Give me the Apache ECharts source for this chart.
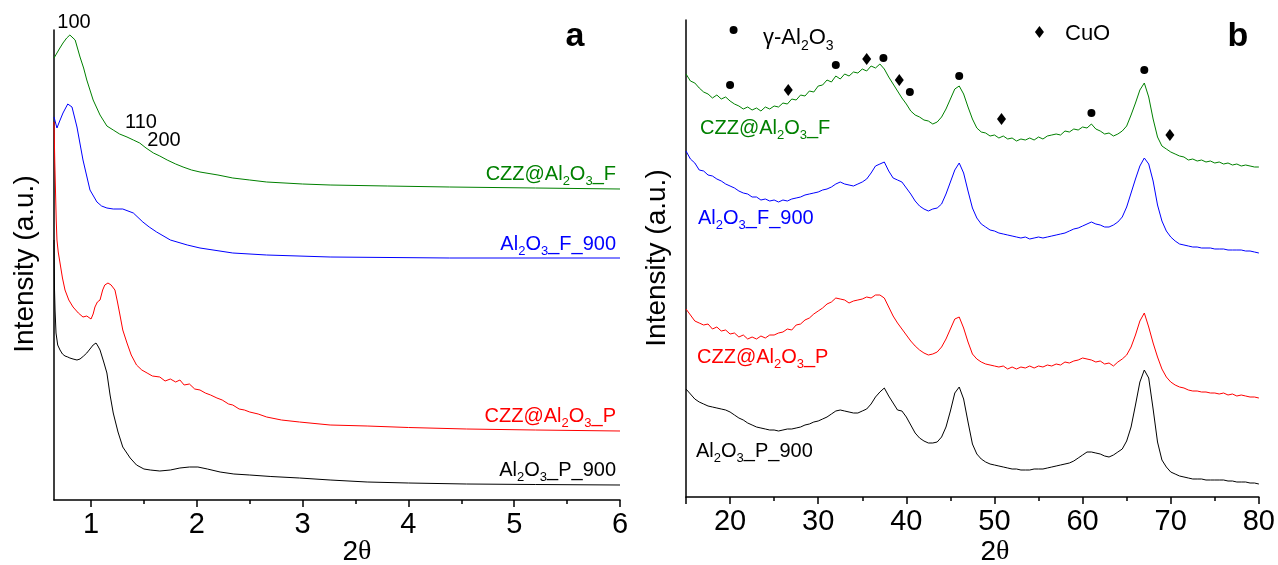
<!DOCTYPE html>
<html><head><meta charset="utf-8">
<script src="https://cdn.jsdelivr.net/npm/echarts@6/dist/echarts.min.js"></script>
<style>html,body{margin:0;padding:0;background:#fff}#c{width:1278px;height:565px}</style>
</head><body><div id="c"></div>
<script>
// ---------- Panel a (low-angle XRD) ----------
const aTicks = [1, 2, 3, 4, 5, 6];
const a_czzF_x = [0.65,0.70,0.735,0.77,0.80,0.85,0.896,0.93,0.96,1.02,1.085,1.15,1.21,1.27,1.34,1.40,1.46,1.52,1.59,1.65,1.72,1.80,1.87,1.95,2.03,2.2,2.34,2.5,2.66,3.0,3.26,3.8,4.39,5.2,6.0];
const a_czzF_y = [442,451,457,462,465,460,443,432,420,400,385,374,370,366,363,360,357,352,347,344,340,336,333,330,328,325,322,320,318,316,315,314,313,312,311];
const a_alF_x = [0.65,0.678,0.70,0.735,0.78,0.82,0.867,0.924,0.99,1.056,1.10,1.15,1.21,1.30,1.40,1.49,1.55,1.62,1.75,1.91,2.03,2.34,2.66,3.26,4.39,6.0];
const a_alF_y = [383,372,378,387,396,393,373,340,310,298,294,292,291,291,287,278,273,268,260,255,252,247,245,243,242,242];
const a_czzP_x = [0.65,0.657,0.664,0.671,0.678,0.69,0.707,0.73,0.754,0.79,0.83,0.88,0.924,0.96,1.0,1.02,1.037,1.06,1.085,1.11,1.13,1.16,1.19,1.226,1.25,1.27,1.30,1.34,1.38,1.43,1.48,1.53,1.58,1.65,1.70,1.75,1.80,1.84,1.88,1.93,1.98,2.03,2.08,2.13,2.19,2.24,2.30,2.34,2.40,2.45,2.50,2.58,2.66,2.80,2.97,3.26,3.61,4.0,4.55,5.2,6.0];
const a_czzP_y = [378,340,310,280,260,248,237,222,210,200,193,187,183,184,181,186,193,198,200,210,215,217,215,210,198,187,170,157,145,135,130,127,124,123,119,121,118,120,115,116,111,110,107,105,102,100,96,95,91,90,88,86,83,80,78,75,74,72.5,71,70,69];
const a_alP_x = [0.65,0.655,0.66,0.669,0.685,0.707,0.73,0.754,0.78,0.80,0.83,0.867,0.896,0.93,0.96,0.99,1.02,1.047,1.065,1.085,1.12,1.15,1.18,1.21,1.255,1.30,1.37,1.43,1.50,1.56,1.65,1.75,1.84,1.93,2.01,2.10,2.22,2.35,2.50,2.70,2.97,3.26,3.61,4.0,4.55,5.2,6.0];
const a_alP_y = [260,210,190,167,155,150,146,144,143,142,141,140,141,144,147,151,155,157,154,150,138,127,105,87,68,53,42,35,31,30,29,30,32,33,33,31,28,26,25,23.5,22,20,18,17,16,15.5,15];

// ---------- Panel b (wide-angle XRD) ----------
const bTicks = [20, 30, 40, 50, 60, 70, 80];
const b_x = [15,15.5,16,16.5,17,17.5,18,18.5,19,19.5,
  20,20.5,21,21.5,22,22.5,23,23.5,24,24.5,
  25,25.5,26,26.5,27,27.5,28,28.5,29,29.5,
  30,30.5,31,31.5,32,32.5,33,33.5,34,34.5,
  35,35.5,36,36.5,37,37.5,38,38.5,39,39.5,
  40,40.5,41,41.5,42,42.5,43,43.5,44,44.5,
  45,45.5,46,46.5,47,47.5,48,48.5,49,49.5,
  50,50.5,51,51.5,52,52.5,53,53.5,54,54.5,
  55,55.5,56,56.5,57,57.5,58,58.5,59,59.5,
  60,60.5,61,61.5,62,62.5,63,63.5,64,64.5,
  65,65.5,66,66.5,67,67.5,68,68.5,69,69.5,
  70,70.5,71,71.5,72,72.5,73,73.5,74,74.5,
  75,75.5,76,76.5,77,77.5,78,78.5,79,79.5,
  80];
const b_czzF = [423,416,414,409,405,403,399,402,398,400,
  396,393,391,388,390,387,389,386,390,388,
  391,390,394,393,398,397,402,401,406,405,
  411,412,417,415,421,418,423,421,425,424,
  428,426,431,429,433,428,420,413,406,399,
  393,386,382,380,377,376,373,375,380,388,
  398,408,411,403,390,378,369,365,364,361,
  362,359,361,358,359,356,358,357,359,357,
  360,358,361,362,363,362,366,365,368,367,
  370,369,373,368,366,363,364,361,363,366,
  371,382,394,407,414,400,378,360,351,348,
  345,343,341,340,337,338,336,337,335,336,
  334,335,333,334,332,333,331,332,331,330,
  330];
const b_alF = [346,338,334,327,326,322,321,318,316,313,
  311,309,306,304,303,300,300,297,298,296,
  297,295,297,296,298,299,300,302,303,304,
  305,307,308,310,313,315,313,312,311,313,
  315,318,324,331,333,335,326,319,317,315,
  309,303,296,291,288,286,288,289,293,303,
  315,327,334,324,306,289,279,273,270,267,
  266,264,263,262,261,260,259,260,258,259,
  260,259,260,261,262,263,264,266,268,269,
  271,273,275,273,272,270,270,272,275,280,
  290,304,318,331,339,333,316,292,276,266,
  260,256,253,252,251,250,250,249,249,249,
  248,248,248,247,247,247,247,246,246,245,
  244];
const b_czzP = [188,182,176,174,172,173,168,170,166,167,
  163,164,160,162,158,160,158,161,159,162,
  162,164,165,168,167,172,173,177,179,183,
  186,189,193,195,199,198,197,194,196,197,
  198,200,199,202,202,199,190,181,174,168,
  162,156,151,147,144,142,143,145,150,158,
  168,178,180,169,155,143,138,135,133,132,
  131,130,131,128,130,128,130,129,131,129,
  131,130,132,131,133,132,135,134,136,137,
  139,138,137,135,136,133,134,131,135,138,
  142,150,162,176,184,170,154,140,128,120,
  115,112,110,109,107,106,106,105,105,104,
  104,103,104,102,103,101,102,101,100,100,
  99];
const b_alP = [108,103,98,95,93,91,90,89,88,87,
  85,82,79,77,74,72,70,69,68,67,
  67,66,67,68,68,69,70,72,73,75,
  76,78,80,83,86,87,86,85,84,84,
  86,88,93,100,105,109,101,94,87,86,
  80,72,64,59,56,54,54,55,60,70,
  86,104,110,98,75,53,43,38,35,33,
  32,31,30,29,28,28,27,27,27,28,
  28,28,29,30,31,32,33,34,36,39,
  42,45,45,44,43,41,40,42,45,48,
  56,70,92,115,127,119,88,55,37,30,
  25,23,21,20,19,18,18,18,17,17,
  17,17,17,16,16,15,15,15,14,14,
  13];
// phase markers (2θ position, height in a.u.)
const gammaX = [20.0, 32.0, 37.4, 40.4, 46.0, 61.0, 67.0];
const gammaY = [412, 432, 439, 405, 421, 384, 427];
const cuoX = [26.6, 35.5, 39.2, 50.8, 69.9];
const cuoY = [407, 438, 417, 378, 362];
const legendGamma = [20.4, 467];
const legendCuo = [55.1, 465];

const zip = (xs, ys) => xs.map((x, i) => [x, ys[i]]);
const FONT = 'Liberation Sans, Arial, sans-serif';
const GREEN = '#008000', BLUE = '#0000ff', RED = '#ff0000', BLACK = '#000000';

function lbl(text, color, x, y, align, size) {
  size = size || 20;
  return {
    type: 'text', x: x, y: y, silent: true, z: 50,
    style: {
      text: text, fill: color, fontSize: size, fontFamily: FONT,
      align: align, textAlign: align, verticalAlign: 'middle', textVerticalAlign: 'middle',
      lineHeight: Math.round(size * 1.4),
      rich: {
        s: { fontSize: Math.round(size * 0.65), fontFamily: FONT, fill: color, lineHeight: Math.round(size * 0.7), verticalAlign: 'bottom' },
        t: { fontSize: size, fontFamily: 'Liberation Serif, Times New Roman, serif', fill: color }
      }
    }
  };
}

const axisX = (gridIndex, min, max, split, custom) => {
  const ax = {
    type: 'value', gridIndex: gridIndex, min: min, max: max, splitNumber: split,
    axisLine: { show: true, onZero: false, lineStyle: { color: '#000', width: 1.5 } },
    axisTick: { show: true, inside: false, length: 7, lineStyle: { color: '#000', width: 1.5 } },
    minorTick: { show: true, splitNumber: 2, length: 4, lineStyle: { color: '#000', width: 1.5 } },
    axisLabel: { show: true, showMinLabel: false, color: '#000', fontSize: 29, fontFamily: FONT, margin: 10 },
    splitLine: { show: false }, minorSplitLine: { show: false }
  };
  if (custom) { ax.axisTick.customValues = custom; ax.axisLabel.customValues = custom; ax.axisLabel.showMinLabel = true; }
  return ax;
};
const axisY = (gridIndex, max) => ({
  type: 'value', gridIndex: gridIndex, min: 0, max: max,
  axisLine: { show: true, onZero: false, lineStyle: { color: '#000', width: 1.5 } },
  axisTick: { show: false }, axisLabel: { show: false }, splitLine: { show: false }
});
const line = (xi, yi, data, color) => ({
  type: 'line', xAxisIndex: xi, yAxisIndex: yi, data: data, showSymbol: false, symbol: 'none',
  lineStyle: { color: color, width: 1 }, silent: true, animation: false, z: 2
});
const pts = (data, symbol, size) => ({
  type: 'scatter', xAxisIndex: 1, yAxisIndex: 1, data: data, symbol: symbol, symbolSize: size,
  itemStyle: { color: '#000', opacity: 1 }, silent: true, animation: false, z: 5
});

const chart = echarts.init(document.getElementById('c'), null, { renderer: 'canvas' });
chart.setOption({
  animation: false,
  backgroundColor: '#fff',
  grid: [
    { left: 54, top: 30, width: 566, height: 470 },
    { left: 686, top: 20, width: 574, height: 477 }
  ],
  xAxis: [axisX(0, 0.65, aTicks[aTicks.length - 1], 5, aTicks), axisX(1, 15, bTicks[bTicks.length - 1], 7)],
  yAxis: [axisY(0, 470), axisY(1, 477)],
  series: [
    line(0, 0, zip(a_czzF_x, a_czzF_y), GREEN),
    line(0, 0, zip(a_alF_x, a_alF_y), BLUE),
    line(0, 0, zip(a_czzP_x, a_czzP_y), RED),
    line(0, 0, zip(a_alP_x, a_alP_y), BLACK),
    line(1, 1, zip(b_x, b_czzF), GREEN),
    line(1, 1, zip(b_x, b_alF), BLUE),
    line(1, 1, zip(b_x, b_czzP), RED),
    line(1, 1, zip(b_x, b_alP), BLACK),
    pts(zip(gammaX, gammaY).concat([legendGamma]), 'circle', 8),
    pts(zip(cuoX, cuoY).concat([legendCuo]), 'diamond', [9, 12])
  ],
  graphic: [
    Object.assign(lbl('Intensity (a.u.)', BLACK, 25, 264, 'center', 28), { rotation: Math.PI / 2 }),
    Object.assign(lbl('Intensity (a.u.)', BLACK, 657, 258, 'center', 28), { rotation: Math.PI / 2 }),
    lbl('2{t|θ}', BLACK, 357, 552, 'center', 28),
    lbl('2{t|θ}', BLACK, 995, 552, 'center', 28),
    { type: 'text', x: 575, y: 37, silent: true, style: { text: 'a', fill: '#000', fontSize: 34, fontWeight: 'bold', fontFamily: FONT, align: 'center', textAlign: 'center', verticalAlign: 'middle', textVerticalAlign: 'middle' } },
    { type: 'text', x: 1238, y: 37, silent: true, style: { text: 'b', fill: '#000', fontSize: 34, fontWeight: 'bold', fontFamily: FONT, align: 'center', textAlign: 'center', verticalAlign: 'middle', textVerticalAlign: 'middle' } },
    lbl('100', BLACK, 74, 22, 'center', 20),
    lbl('110', BLACK, 141, 122, 'center', 20),
    lbl('200', BLACK, 164, 140, 'center', 20),
    lbl('CZZ@Al{s|2}O{s|3}_F', GREEN, 616, 174, 'right', 20),
    lbl('Al{s|2}O{s|3}_F_900', BLUE, 616, 244, 'right', 20),
    lbl('CZZ@Al{s|2}O{s|3}_P', RED, 616, 416, 'right', 20),
    lbl('Al{s|2}O{s|3}_P_900', BLACK, 616, 470, 'right', 20),
    lbl('CZZ@Al{s|2}O{s|3}_F', GREEN, 700, 128, 'left', 20),
    lbl('Al{s|2}O{s|3}_F_900', BLUE, 698, 218, 'left', 20),
    lbl('CZZ@Al{s|2}O{s|3}_P', RED, 697, 357, 'left', 20),
    lbl('Al{s|2}O{s|3}_P_900', BLACK, 696, 451, 'left', 20),
    lbl('γ-Al{s|2}O{s|3}', BLACK, 763, 38, 'left', 22),
    lbl('CuO', BLACK, 1065, 34, 'left', 22)
  ]
});
</script></body></html>
